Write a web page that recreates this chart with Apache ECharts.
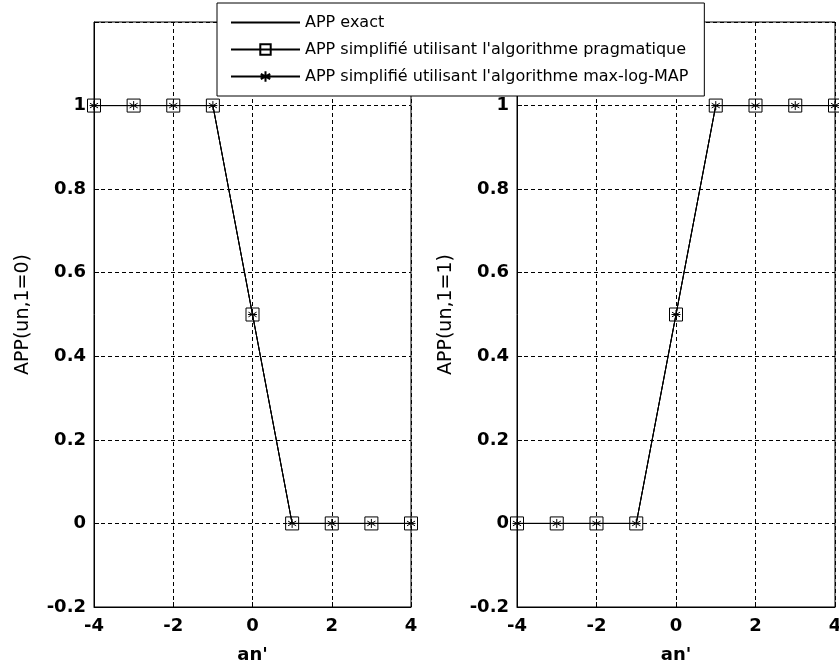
<!DOCTYPE html>
<html>
<head>
<meta charset="utf-8">
<script src="https://cdn.jsdelivr.net/npm/echarts@6/dist/echarts.min.js"></script>
<style>html,body{margin:0;padding:0;background:#fff}#c{width:839px;height:670px}</style>
</head>
<body>
<div id="c"></div>
<script>
const anValues = [-4, -3, -2, -1, 0, 1, 2, 3, 4];
const appExact0 = [1, 1, 1, 1, 0.5, 0, 0, 0, 0];
const appPragmatic0 = [1, 1, 1, 1, 0.5, 0, 0, 0, 0];
const appMaxLog0 = [1, 1, 1, 1, 0.5, 0, 0, 0, 0];
const appExact1 = [0, 0, 0, 0, 0.5, 1, 1, 1, 1];
const appPragmatic1 = [0, 0, 0, 0, 0.5, 1, 1, 1, 1];
const appMaxLog1 = [0, 0, 0, 0, 0.5, 1, 1, 1, 1];
const seriesNames = ['APP exact', "APP simplifié utilisant l'algorithme pragmatique", "APP simplifié utilisant l'algorithme max-log-MAP"];
const xTicks = [-4, -2, 0, 2, 4];
const yTicks = [-0.2, 0, 0.2, 0.4, 0.6, 0.8, 1];
const xLabel = "an'";
const yLabels = ['APP(un,1=0)', 'APP(un,1=1)'];

const pairs = a => anValues.map((x, i) => [x, a[i]]);
const FONT = 'DejaVu Sans, Liberation Sans, Arial, sans-serif';
const asterisk = 'path://M0,-5L0,5M-4.5,-2.6L4.5,2.6M-4.5,2.6L4.5,-2.6M-5,0L5,0';

function xAxis(gi) {
  return {
    type: 'value', gridIndex: gi, min: -4, max: 4, interval: 2,
    name: xLabel, nameLocation: 'middle', nameGap: 39,
    nameTextStyle: {fontFamily: FONT, fontWeight: 'bold', fontSize: 18, color: '#000'},
    axisLine: {show: true, onZero: false, lineStyle: {color: '#000', width: 1}},
    axisTick: {show: true, inside: true, length: 5, lineStyle: {color: '#000'}},
    axisLabel: {fontFamily: FONT, fontWeight: 'bold', fontSize: 18, color: '#000', margin: 10,
      formatter: v => xTicks.includes(v) ? String(v) : ''},
    splitLine: {show: true, lineStyle: {color: '#000', type: [4, 3], width: 1}}
  };
}
function yAxis(gi) {
  return {
    type: 'value', gridIndex: gi, min: -0.2, max: 1.2, interval: 0.2,
    name: yLabels[gi], nameLocation: 'middle', nameGap: 61, nameRotate: 90,
    nameTextStyle: {fontFamily: FONT, fontSize: 19, color: '#000'},
    axisLine: {show: true, onZero: false, lineStyle: {color: '#000', width: 1}},
    axisTick: {show: true, inside: true, length: 5, lineStyle: {color: '#000'}},
    axisLabel: {fontFamily: FONT, fontWeight: 'bold', fontSize: 18, color: '#000', margin: 8,
      formatter: v => {
        const r = Math.round(v * 10) / 10;
        return yTicks.some(t => Math.abs(t - r) < 1e-9) ? String(r) : '';
      }},
    splitLine: {show: true, lineStyle: {color: '#000', type: [4, 3], width: 1}}
  };
}
function mkSeries(gi, exact, prag, maxlog) {
  return [
    {name: seriesNames[0], type: 'line', xAxisIndex: gi, yAxisIndex: gi, data: pairs(exact),
      showSymbol: false, symbol: 'none', lineStyle: {color: '#000', width: 1}, itemStyle: {color: '#000'}, z: 3, animation: false},
    {name: seriesNames[1], type: 'line', xAxisIndex: gi, yAxisIndex: gi, data: pairs(prag),
      symbol: 'rect', symbolSize: 13, showAllSymbol: true,
      lineStyle: {color: '#000', width: 1},
      itemStyle: {color: 'rgba(255,255,255,0)', borderColor: '#000', borderWidth: 1}, z: 4, animation: false},
    {name: seriesNames[2], type: 'line', xAxisIndex: gi, yAxisIndex: gi, data: pairs(maxlog),
      symbol: asterisk, symbolSize: 9, showAllSymbol: true,
      lineStyle: {color: '#000', width: 1},
      itemStyle: {color: 'none', borderColor: '#000', borderWidth: 1}, z: 5, animation: false}
  ];
}

const chart = echarts.init(document.getElementById('c'), null, {renderer: 'canvas'});
chart.setOption({
  backgroundColor: '#fff',
  animation: false,
  grid: [
    {left: 94, top: 22, width: 317, height: 585, show: true, borderColor: '#000', borderWidth: 1, backgroundColor: '#fff', outerBoundsMode: 'none', containLabel: false},
    {left: 517, top: 22, width: 318, height: 585, show: true, borderColor: '#000', borderWidth: 1, backgroundColor: '#fff', outerBoundsMode: 'none', containLabel: false}
  ],
  xAxis: [xAxis(0), xAxis(1)],
  yAxis: [yAxis(0), yAxis(1)],
  legend: {
    data: [
      {name: seriesNames[0], itemStyle: {opacity: 0}},
      {name: seriesNames[1]},
      {name: seriesNames[2]}
    ],
    orient: 'vertical', left: 217, top: 3,
    padding: [10, 16, 10, 13], itemGap: 8, itemWidth: 69, itemHeight: 13,
    backgroundColor: '#fff', borderColor: '#000', borderWidth: 1,
    textStyle: {fontFamily: FONT, fontSize: 16, color: '#000', lineHeight: 19},
    z: 10
  },
  series: [...mkSeries(0, appExact0, appPragmatic0, appMaxLog0), ...mkSeries(1, appExact1, appPragmatic1, appMaxLog1)]
});
</script>
</body>
</html>
